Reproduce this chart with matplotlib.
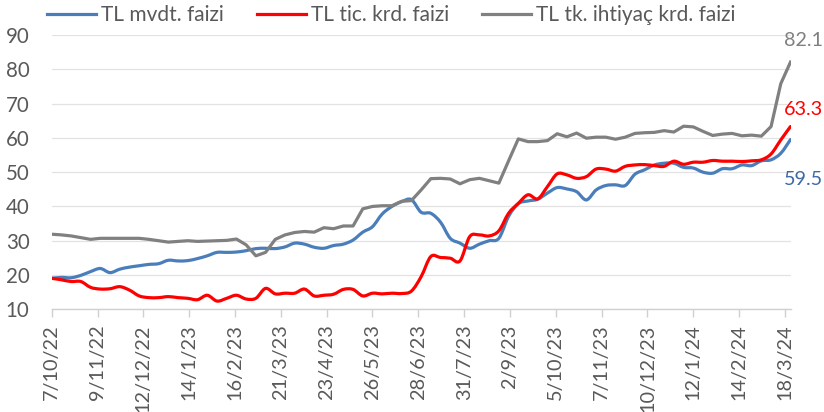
import matplotlib
matplotlib.use("Agg")
import matplotlib.pyplot as plt
import matplotlib.dates as mdates
from matplotlib.path import Path
from matplotlib.patches import PathPatch
from matplotlib.lines import Line2D
import numpy as np
import pandas as pd

# ---------------- data (weekly, 7/10/2022 .. 22/3/2024) ----------------
start_date = "2022-10-07"
n_weeks = 77

mevduat = [19.05, 19.3, 19.2, 19.9, 21.0, 21.9, 20.7, 21.7, 22.3, 22.7,
           23.1, 23.3, 24.3, 24.1, 24.2, 24.8, 25.6, 26.6, 26.6, 26.7,
           27.1, 27.7, 27.8, 27.7, 28.2, 29.3, 29.0, 28.1, 27.8, 28.6,
           29.0, 30.2, 32.5, 34.1, 37.8, 40.0, 41.4, 42.0, 38.3, 38.0,
           35.4, 30.7, 29.3, 27.8, 29.0, 30.0, 30.7, 37.1, 40.8, 41.6,
           42.1, 43.9, 45.5, 45.1, 44.3, 41.9, 44.8, 46.1, 46.3, 46.1,
           49.4, 50.7, 52.1, 52.6, 52.6, 51.4, 51.2, 50.0, 49.7, 51.0,
           51.0, 52.1, 51.9, 53.3, 53.6, 55.5, 59.5]

ticari = [19.05, 18.6, 18.1, 18.1, 16.4, 15.9, 16.0, 16.6, 15.6, 13.9,
          13.4, 13.4, 13.7, 13.4, 13.2, 12.8, 14.1, 12.4, 13.2, 14.1,
          13.0, 13.2, 16.1, 14.5, 14.7, 14.7, 15.9, 13.9, 14.1, 14.4,
          15.8, 15.8, 13.9, 14.7, 14.5, 14.7, 14.6, 15.3, 19.5, 25.4,
          25.1, 24.9, 24.1, 31.2, 31.7, 31.4, 32.9, 38.0, 40.9, 43.4,
          42.2, 45.8, 49.5, 49.2, 48.2, 48.7, 50.9, 50.9, 50.3, 51.7,
          52.1, 52.2, 51.9, 51.7, 53.2, 52.3, 52.9, 52.9, 53.4, 53.2,
          53.2, 53.1, 53.3, 53.6, 55.3, 59.4, 63.3]

ihtiyac = [31.9, 31.7, 31.4, 30.9, 30.4, 30.7, 30.7, 30.7, 30.7, 30.7,
           30.4, 30.0, 29.6, 29.8, 30.0, 29.8, 29.9, 30.0, 30.1, 30.5,
           28.8, 25.6, 26.6, 30.4, 31.7, 32.4, 32.7, 32.5, 33.8, 33.5,
           34.3, 34.3, 39.3, 40.0, 40.2, 40.2, 41.5, 41.7, 44.8, 48.1,
           48.2, 48.0, 46.6, 47.8, 48.2, 47.5, 46.8, 53.3, 59.7, 58.9,
           58.9, 59.2, 61.2, 60.3, 61.4, 59.9, 60.2, 60.2, 59.6, 60.2,
           61.3, 61.5, 61.6, 62.1, 61.7, 63.4, 63.2, 61.9, 60.7, 61.1,
           61.3, 60.6, 60.8, 60.5, 63.3, 75.8, 82.1]

series_names = ["TL mvdt. faizi", "TL tic. krd. faizi", "TL tk. ihtiyaç krd. faizi"]
end_labels = ["59.5", "63.3", "82.1"]
y_ticks = [10, 20, 30, 40, 50, 60, 70, 80, 90]
tick_step_days = 33
n_xticks = 17

# ---------------- style ----------------
colors = ["#4a7ebb", "#ff0000", "#808080"]
label_colors = ["#3e6aa3", "#ff0000", "#808080"]
smooth = [True, True, False]
text_color = "#595959"
grid_color = "#e2e2e2"
FONT = ["Lato", "DejaVu Sans"]
plt.rcParams["font.family"] = FONT

dates = pd.date_range(start_date, periods=n_weeks, freq="7D")
xnum = mdates.date2num(dates.to_pydatetime())

fig = plt.figure(figsize=(8.24, 4.12), dpi=100)
ax = fig.add_axes([51.7 / 824, 1 - 309.3 / 412, (790.5 - 51.7) / 824, (309.3 - 35.0) / 412])


def smooth_path(x, y):
    pts = np.column_stack([x, y])
    verts = [pts[0]]
    codes = [Path.MOVETO]
    n = len(pts)
    for i in range(n - 1):
        p0 = pts[i - 1] if i > 0 else pts[i]
        p1 = pts[i]
        p2 = pts[i + 1]
        p3 = pts[i + 2] if i + 2 < n else pts[i + 1]
        c1 = p1 + (p2 - p0) / 6.0
        c2 = p2 - (p3 - p1) / 6.0
        verts += [c1, c2, p2]
        codes += [Path.CURVE4] * 3
    return Path(verts, codes)


all_series = [mevduat, ticari, ihtiyac]
handles = []
for vals, col, sm, name in zip(all_series, colors, smooth, series_names):
    if sm:
        patch = PathPatch(smooth_path(xnum, np.array(vals, float)), facecolor="none",
                          edgecolor=col, lw=2.3, capstyle="round", joinstyle="round", zorder=3)
        ax.add_patch(patch)
    else:
        ax.plot(xnum, vals, color=col, lw=2.3, solid_joinstyle="round", zorder=3)
    handles.append(Line2D([0], [0], color=col, lw=2.3))

# end labels
offsets = [(-7, -40), (-7, 17), (-7, 22)]
for vals, lab, col, off in zip(all_series, end_labels, label_colors, offsets):
    ax.annotate(lab, xy=(xnum[-1], vals[-1]), xytext=off, textcoords="offset pixels",
                ha="left", va="center", fontsize=14.2, color=col, annotation_clip=False)

# axes
ax.set_xlim(xnum[0], xnum[-1])
ax.set_ylim(10, 90)
ax.set_yticks(y_ticks)
ax.set_yticklabels([str(v) for v in y_ticks])
ax.grid(axis="y", color=grid_color, lw=0.9)
ax.set_axisbelow(True)

tick_dates = [dates[0] + pd.Timedelta(days=tick_step_days * k) for k in range(n_xticks)]
ax.set_xticks(mdates.date2num([d.to_pydatetime() for d in tick_dates]))
ax.set_xticklabels([f"{d.day}/{d.month}/{d.strftime('%y')}" for d in tick_dates], rotation=90)

for s in ["top", "right", "left"]:
    ax.spines[s].set_visible(False)
ax.spines["bottom"].set_color("#d0d0d0")
ax.spines["bottom"].set_linewidth(1.0)
ax.tick_params(axis="x", colors="#d0d0d0", length=6, width=1.0, labelcolor=text_color,
               labelsize=14.3, pad=5)
ax.tick_params(axis="y", length=0, labelcolor=text_color, labelsize=14.8, pad=16)

# legend entries placed individually (as in the reference)
legend_x_px = [47, 257, 482]
for h, name, xp in zip(handles, series_names, legend_x_px):
    fig.legend([h], [name], loc="center left", bbox_to_anchor=(xp / 824, 1 - 15 / 412),
               frameon=False, fontsize=15.0, handlelength=2.35, handletextpad=0.25,
               labelcolor=text_color, borderpad=0, borderaxespad=0)

fig.savefig("out.png", dpi=100)
